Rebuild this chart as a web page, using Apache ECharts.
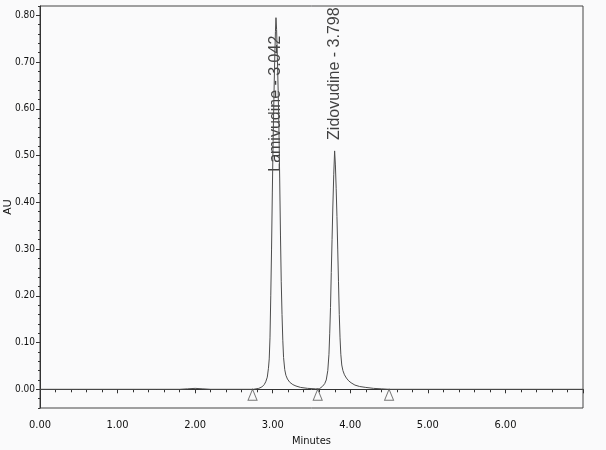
<!DOCTYPE html>
<html><head><meta charset="utf-8">
<script src="https://cdn.jsdelivr.net/npm/echarts@6/dist/echarts.min.js"></script>
<style>html,body{margin:0;padding:0;background:#fafafb}#c{width:606px;height:450px}</style>
</head><body><div id="c"></div>
<script>
// Chromatogram trace (minutes, AU)
const times = [0.00, 0.50, 1.00, 1.50, 1.80, 1.90, 2.00, 2.10, 2.20, 2.40, 2.60, 2.75,
  2.82, 2.86, 2.89, 2.91, 2.93, 2.945, 2.955, 2.965, 2.975, 2.985, 2.995, 3.005, 3.015, 3.025, 3.035,
  3.042, 3.05, 3.06, 3.07, 3.08, 3.09, 3.10, 3.11, 3.12, 3.13, 3.14, 3.155, 3.17, 3.19, 3.22, 3.26,
  3.30, 3.36, 3.45, 3.55,
  3.60, 3.64, 3.67, 3.69, 3.71, 3.725, 3.735, 3.745, 3.755, 3.765, 3.775, 3.787,
  3.798, 3.808, 3.818, 3.828, 3.838, 3.848, 3.858, 3.868, 3.878, 3.89, 3.905, 3.925, 3.95, 3.98,
  4.01, 4.06, 4.12, 4.20, 4.30, 4.40, 4.50, 5.00, 6.00, 7.00];
const absorbance = [0.000, 0.000, 0.000, 0.000, 0.000, 0.001, 0.002, 0.001, 0.000, 0.000, 0.000, 0.000,
  0.002, 0.005, 0.010, 0.016, 0.026, 0.045, 0.065, 0.110, 0.200, 0.300, 0.420, 0.530, 0.620, 0.700, 0.765,
  0.795, 0.770, 0.710, 0.640, 0.560, 0.450, 0.330, 0.230, 0.160, 0.105, 0.068, 0.042, 0.030, 0.022, 0.015, 0.010,
  0.007, 0.004, 0.002, 0.001,
  0.001, 0.006, 0.012, 0.020, 0.040, 0.075, 0.120, 0.175, 0.250, 0.320, 0.390, 0.460,
  0.510, 0.480, 0.430, 0.370, 0.300, 0.230, 0.160, 0.110, 0.075, 0.052, 0.040, 0.031, 0.024, 0.018,
  0.014, 0.009, 0.006, 0.004, 0.002, 0.001, 0.000, 0.000, 0.000, 0.000];

const peakNames = ['Lamivudine', 'Zidovudine'];
const peakTimes = [3.042, 3.798];
const peakHeights = [0.795, 0.510];
const markerTimes = [2.74, 3.58, 4.50];
const yTickValues = [0.00, 0.10, 0.20, 0.30, 0.40, 0.50, 0.60, 0.70, 0.80];
const xTickValues = [0, 1, 2, 3, 4, 5, 6];

// styles for the two peak labels (kept apart from data)
const peakLabelStyles = [
  { align: 'right', padding: [0, 18, 0, 0] },
  { align: 'left', padding: [0, 0, 0, 11] }
];

const narrow = '"Liberation Sans Narrow", "Arial Narrow", "DejaVu Sans Condensed", sans-serif';
const axisColor = '#333';
const chart = echarts.init(document.getElementById('c'), null, { renderer: 'canvas' });

const trace = times.map((t, i) => [t, absorbance[i]]);
const peakData = peakTimes.map((t, i) => ({
  value: [t, peakHeights[i]],
  name: peakNames[i] + ' - ' + t.toFixed(3),
  label: peakLabelStyles[i]
}));

chart.setOption({
  animation: false,
  backgroundColor: '#fafafb',
  grid: { left: 40, right: 23, top: 6, bottom: 42, show: true, borderColor: '#444', borderWidth: 1,
          containLabel: false, outerBoundsMode: 'none' },
  xAxis: {
    type: 'value', min: 0, max: 7, interval: 1,
    name: 'Minutes', nameLocation: 'middle', nameGap: 26,
    nameTextStyle: { fontFamily: narrow, fontSize: 11, color: '#111' },
    axisLine: { show: true, lineStyle: { color: axisColor, width: 1 } },
    axisTick: { show: true, length: 4, inside: false, lineStyle: { color: axisColor } },
    minorTick: { show: true, splitNumber: 5, length: 3, lineStyle: { color: axisColor } },
    axisLabel: {
      margin: 12, fontFamily: narrow, fontSize: 11, color: '#111',
      formatter: v => (xTickValues.indexOf(Math.round(v)) >= 0 && v < 6.5) ? v.toFixed(2) : ''
    },
    splitLine: { show: false }
  },
  yAxis: [{
    type: 'value', min: -0.04, max: 0.82, interval: 0.02,
    name: 'AU', nameLocation: 'middle', nameGap: 27, nameRotate: 90,
    nameTextStyle: { fontFamily: 'Liberation Sans, Arial, sans-serif', fontSize: 11, color: '#111' },
    axisLine: { show: true, lineStyle: { color: axisColor, width: 1 } },
    axisTick: { show: true, length: 2, lineStyle: { color: axisColor } },
    axisLabel: { show: false },
    splitLine: { show: false }
  }, {
    type: 'value', min: -0.04, max: 0.82, position: 'left', offset: 0,
    axisLine: { show: false },
    axisTick: { show: true, length: 4, customValues: yTickValues, lineStyle: { color: axisColor } },
    axisLabel: {
      show: true, margin: 5, fontFamily: narrow, fontSize: 10, color: '#111',
      customValues: yTickValues,
      formatter: v => v.toFixed(2)
    },
    splitLine: { show: false }
  }],
  series: [{
    type: 'line', data: trace, xAxisIndex: 0, yAxisIndex: 0,
    showSymbol: false, symbol: 'none', smooth: false,
    lineStyle: { color: '#4d4d4d', width: 1 }
  }, {
    type: 'scatter', data: markerTimes.map(t => [t, 0]), yAxisIndex: 0,
    symbol: 'triangle', symbolSize: [9, 11], symbolOffset: [0, '50%'],
    itemStyle: { color: '#fafafb', borderColor: '#555', borderWidth: 1 }
  }, {
    type: 'scatter', data: peakData, yAxisIndex: 0,
    symbolSize: 1, itemStyle: { color: 'transparent' },
    label: {
      show: true, rotate: 90, position: 'inside', verticalAlign: 'middle',
      formatter: p => p.name,
      fontFamily: 'Liberation Sans, Arial, sans-serif', fontSize: 16, color: '#111'
    }
  }]
});
</script>
</body></html>
